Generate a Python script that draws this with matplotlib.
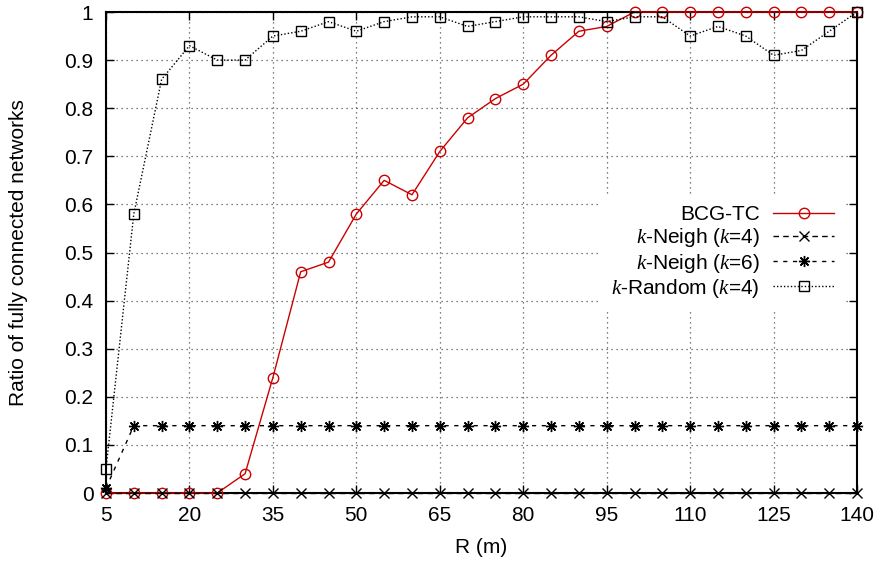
import matplotlib
matplotlib.use("Agg")
import matplotlib.pyplot as plt

plt.rcParams['font.family'] = ['Liberation Sans', 'DejaVu Sans']
plt.rcParams['mathtext.fontset'] = 'custom'
plt.rcParams['mathtext.it'] = 'Liberation Serif:italic'
plt.rcParams['mathtext.rm'] = 'Liberation Sans'

R = [5, 10, 15, 20, 25, 30, 35, 40, 45, 50, 55, 60, 65, 70, 75, 80, 85, 90, 95,
     100, 105, 110, 115, 120, 125, 130, 135, 140]

bcg_tc = [0, 0, 0, 0, 0, 0.04, 0.24, 0.46, 0.48, 0.58, 0.65, 0.62, 0.71, 0.78,
          0.82, 0.85, 0.91, 0.96, 0.97, 1, 1, 1, 1, 1, 1, 1, 1, 1]
kneigh4 = [0] * 28
kneigh6 = [0.01] + [0.14] * 27
krandom4 = [0.05, 0.58, 0.86, 0.93, 0.90, 0.90, 0.95, 0.96, 0.98, 0.96, 0.98,
            0.99, 0.99, 0.97, 0.98, 0.99, 0.99, 0.99, 0.98, 0.99, 0.99, 0.95,
            0.97, 0.95, 0.91, 0.92, 0.96, 1.0]

xticks = [5, 20, 35, 50, 65, 80, 95, 110, 125, 140]
yticks = [0, 0.1, 0.2, 0.3, 0.4, 0.5, 0.6, 0.7, 0.8, 0.9, 1]
ytick_labels = ['0', '0.1', '0.2', '0.3', '0.4', '0.5', '0.6', '0.7', '0.8', '0.9', '1']

FS = 15

fig = plt.figure(figsize=(8.81, 5.61), dpi=100)
ax = fig.add_axes([0.1203, 0.1212, 0.8525, 0.8574])

red = '#cc0000'
ax.plot(R, bcg_tc, color=red, lw=1.0, marker='o', ms=7.5, mfc='none', mec=red,
        mew=1.0, label='BCG-TC', zorder=3, clip_on=False)
ax.plot(R, kneigh4, color='black', lw=1.0, ls=(0, (4, 3)), marker='x', ms=7,
        mew=1.0, label=r'$k$-Neigh ($k$=4)', zorder=4, clip_on=False)
ax.plot(R, kneigh6, color='black', lw=1.0, ls=(0, (3, 4)), marker=(8, 2, 0), ms=8,
        mew=1.0, label=r'$k$-Neigh ($k$=6)', zorder=4, clip_on=False)
ax.plot(R, krandom4, color='black', lw=1.0, ls=(0, (1, 1.5)), marker='s', ms=7,
        mfc='none', mec='black', mew=1.0, label=r'$k$-Random ($k$=4)', zorder=4,
        clip_on=False)

ax.set_xlim(5, 140)
ax.set_ylim(0, 1)
ax.set_xticks(xticks)
ax.set_yticks(yticks)
ax.set_yticklabels(ytick_labels)
ax.tick_params(direction='in', top=True, right=True, length=6, width=1.0,
               labelsize=FS, pad=9)
ax.grid(True, color='#555555', ls=(0, (1, 3)), lw=0.9)
ax.set_axisbelow(True)
for s in ax.spines.values():
    s.set_linewidth(1.5)

ax.set_xlabel('R (m)', fontsize=FS, labelpad=10)
ax.set_ylabel('Ratio of fully connected networks', fontsize=FS, labelpad=26)

leg = ax.legend(loc='center right', bbox_to_anchor=(0.983, 0.50), markerfirst=False,
                fontsize=FS, frameon=True, fancybox=False, framealpha=1,
                edgecolor='none', facecolor='white', handlelength=2.9,
                handletextpad=0.65, labelspacing=0.1, borderpad=0.5,
                borderaxespad=0)
for t in leg.get_texts():
    t.set_ha('right')
leg.set_zorder(5)

fig.savefig('out.png', dpi=100)
